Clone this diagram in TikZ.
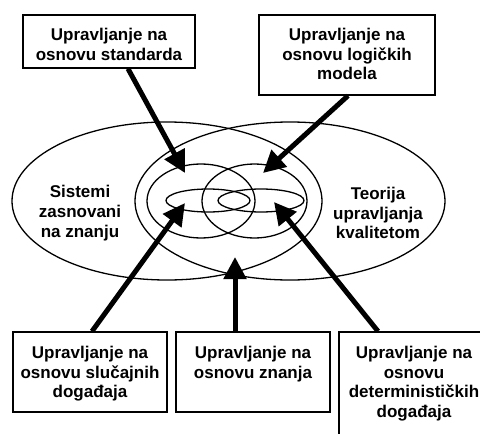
\documentclass[tikz,border=0pt]{standalone}
\usepackage{fontspec}
\setmainfont{Liberation Sans}
\usetikzlibrary{arrows.meta,calc}
\begin{document}
\begin{tikzpicture}[x=1pt,y=-1pt,
  ell/.style={line width=1.3pt},
  box/.style={draw,line width=1.4pt,inner sep=0pt,fill=white},
  lab/.style={font=\fontsize{17}{19.8}\selectfont\bfseries,align=center,inner sep=0pt},
  arr/.style={line width=5pt,-{Triangle[length=22pt,width=22pt]}}]
\useasboundingbox (0,0) rectangle (480,434);
\clip (0,0) rectangle (480,434);

% ellipses
\draw[ell] (167,201) ellipse [x radius=155pt, y radius=79pt];
\draw[ell] (290,201) ellipse [x radius=155pt, y radius=79pt];
\draw[ell] (201,201) ellipse [x radius=54pt, y radius=37pt];
\draw[ell] (254.5,201) ellipse [x radius=52.5pt, y radius=37pt];
\draw[ell] (208,200.5) ellipse [x radius=42pt, y radius=11.5pt];
\draw[ell] (261,200.5) ellipse [x radius=43pt, y radius=11.5pt];

% labels in ellipses
\node[lab] (sz) at (80,213) {Sistemi\\zasnovani\\na znanju};
\node[lab] (tk) at (378,213) {Teorija\\upravljanja\\kvalitetom};

% boxes
\node[box,minimum width=172pt,minimum height=53pt] (b1) at (109,41.5) {};
\node[box,minimum width=176pt,minimum height=80pt] (b2) at (347,55) {};
\node[box,minimum width=154pt,minimum height=80pt] (b3) at (90,372) {};
\node[box,minimum width=154pt,minimum height=80pt] (b4) at (253,372) {};
\node[box,minimum width=156pt,minimum height=120pt] (b5) at (417,392) {};

\node[lab,anchor=north] (t1) at ($(b1.north)+(0,13.5)$) {Upravljanje na\\osnovu standarda};
\node[lab,anchor=north] (t2) at ($(b2.north)+(0,13.5)$) {Upravljanje na\\osnovu logičkih\\modela};
\node[lab,anchor=north] (t3) at ($(b3.north)+(0,14.5)$) {Upravljanje na\\osnovu slučajnih\\događaja};
\node[lab,anchor=north] (t4) at ($(b4.north)+(0,14.5)$) {Upravljanje na\\osnovu znanja};
\node[lab,anchor=north] (t5) at ($(b5.north)+(-3,14.5)$) {Upravljanje na\\osnovu\\determinističkih\\događaja};

% arrow tips
\coordinate (p1) at (185,173);
\coordinate (p2) at (263,173);
\coordinate (p3) at (185,203);
\coordinate (p4) at (274,202);
\coordinate (p5) at (235,257);

\draw[arr] ($(b1.south)+(19,0)$) -- (p1);
\draw[arr] ($(b2.south)+(1,0)$) -- (p2);
\draw[arr] ($(b3.north)+(2,0)$) -- (p3);
\draw[arr] ($(b4.north)+(-18,0)$) -- (p5);
\draw[arr] ($(b5.north)+(-39,0)$) -- (p4);
\end{tikzpicture}
\end{document}
